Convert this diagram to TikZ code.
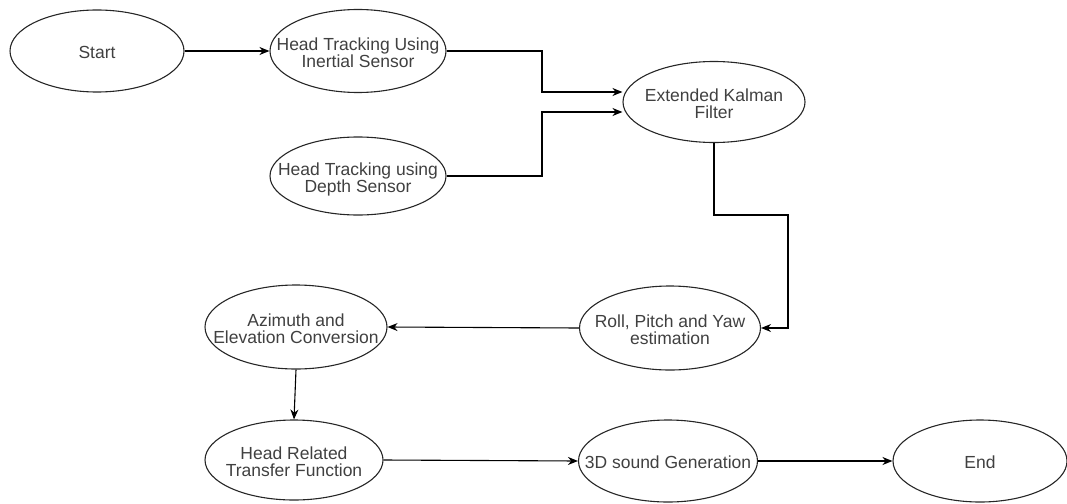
\documentclass[tikz,border=0pt]{standalone}
\usepackage{fontspec}
\setmainfont{Liberation Sans}
\usetikzlibrary{shapes.geometric,arrows.meta,calc}
\newcommand{\lbl}[1]{\makebox[0pt]{\raisebox{-8.5pt}[0pt][0pt]{\begin{tabular}{@{}c@{}}#1\end{tabular}}}}
\begin{document}
\begin{tikzpicture}[x=1pt,y=-1pt,
  el/.style={ellipse, draw=black!85, line width=1.1pt, inner sep=0pt,
    text=black!75, font=\fontsize{17.5}{17}\selectfont},
  arr/.style={draw=black, line width=1.1pt, -{Stealth[length=10pt,width=8pt]}}]
\useasboundingbox (0,0) rectangle (1067,503);
\node[el, minimum width=174pt, minimum height=82pt] (start) at (97,51) {\lbl{Start}};
\node[el, minimum width=176pt, minimum height=83pt] (inertial) at (358,51) {\lbl{Head Tracking Using\\Inertial Sensor}};
\node[el, minimum width=176pt, minimum height=78pt] (depth) at (358,176) {\lbl{Head Tracking using\\Depth Sensor}};
\node[el, minimum width=182pt, minimum height=81pt] (ekf) at (714,102) {\lbl{Extended Kalman\\Filter}};
\node[el, minimum width=181pt, minimum height=84pt] (roll) at (670,328) {\lbl{Roll, Pitch and Yaw\\estimation}};
\node[el, minimum width=182pt, minimum height=84pt] (azi) at (296,327) {\lbl{Azimuth and\\Elevation Conversion}};
\node[el, minimum width=178pt, minimum height=80pt] (hrtf) at (294,460) {\lbl{Head Related\\Transfer Function}};
\node[el, minimum width=179pt, minimum height=82pt] (snd) at (668,461) {\lbl{3D sound Generation}};
\node[el, minimum width=174pt, minimum height=82pt] (end) at (980,461) {\lbl{End}};
\coordinate (k1) at (542,51);
\coordinate (k2) at (542,176);
\coordinate (k3) at (788,215);
\draw[arr] (start.east) -- (inertial.west);
\draw[arr] (inertial.east) -- (k1) |- ([yshift=10pt]ekf.west);
\draw[arr] (depth.east) -- (k2) |- ([yshift=-10pt]ekf.west);
\draw[arr] (ekf.south) |- (k3) |- (roll.east);
\draw[arr] (roll.west) -- (azi.east);
\draw[arr] (azi.south) -- (hrtf.north);
\draw[arr] (hrtf.east) -- (snd.west);
\draw[arr] (snd.east) -- (end.west);
\end{tikzpicture}
\end{document}
